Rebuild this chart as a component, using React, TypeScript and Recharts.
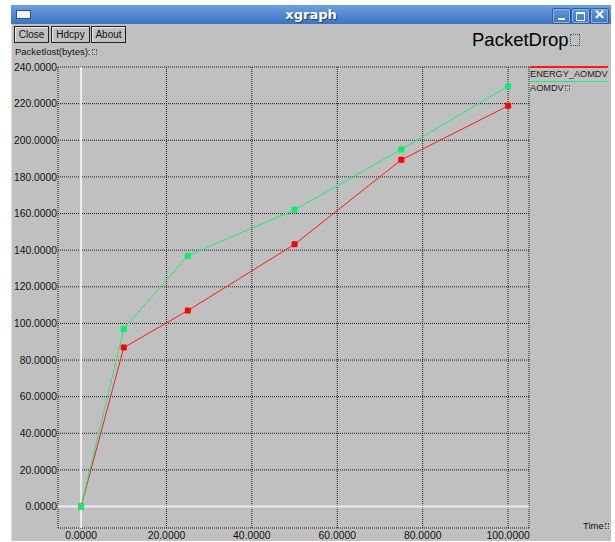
import React from 'react';
import { LineChart, Line, XAxis, YAxis, CartesianGrid, ReferenceLine } from 'recharts';

const times = [0, 10, 25, 50, 75, 100];
const energyAomdv = [0, 86.8, 107, 143.2, 189.3, 218.8];
const aomdv = [0, 97, 137, 162, 195, 229.5];

const xTicks = [0, 20, 40, 60, 80, 100];
const yTicks = [0, 20, 40, 60, 80, 100, 120, 140, 160, 180, 200, 220, 240];

const seriesNames = ['ENERGY_AOMDV', 'AOMDV'];
const seriesColors = ['#ff1a1a', '#1aee78'];
const markerColors = ['#ff0000', '#00f070'];

const FONT = '"Liberation Sans", Arial, Helvetica, sans-serif';

const data = times.map((t, i) => ({ t, energy: energyAomdv[i], aomdv: aomdv[i] }));

const SquareDot = (color: string) => (props: any) => {
  const { cx, cy, index } = props;
  if (cx == null || cy == null) return null;
  return <rect key={index} x={cx - 3} y={cy - 3} width={6} height={6} rx={1} fill={color} />;
};

const XButton: React.FC<{ left: number; width: number; label: string }> = ({ left, width, label }) => (
  <div
    style={{
      position: 'absolute',
      left,
      top: 26,
      width,
      height: 15,
      border: '1px solid #202020',
      boxShadow: 'inset 1px 1px 0 #e8e8e8',
      fontSize: 10,
      lineHeight: '15px',
      textAlign: 'center',
      color: '#111',
    }}
  >
    {label}
  </div>
);

const WinButton: React.FC<{ left: number; children?: React.ReactNode }> = ({ left, children }) => (
  <div
    style={{
      position: 'absolute',
      left,
      top: 8,
      width: 17,
      height: 14,
      borderRadius: 2,
      border: '1px solid #2c5d9e',
      background: 'linear-gradient(#5f95d8, #3f76c0)',
      boxShadow: 'inset 0 0 0 1px #8ab4e8',
    }}
  >
    {children}
  </div>
);

const MissingGlyph: React.FC<{ w: number; h: number }> = ({ w, h }) => (
  <span
    style={{
      display: 'inline-block',
      width: w,
      height: h,
      border: '1px dotted #555',
      marginLeft: 1,
      verticalAlign: 'baseline',
      boxSizing: 'border-box',
    }}
  />
);

export default function App() {
  return (
    <div
      style={{
        position: 'absolute',
        left: 0,
        top: 0,
        width: 615,
        height: 542,
        background: '#ffffff',
        fontFamily: FONT,
        overflow: 'hidden',
      }}
    >
      {/* title bar */}
      <div
        style={{
          position: 'absolute',
          left: 11,
          top: 5,
          width: 600,
          height: 19,
          background: 'linear-gradient(#6a9fe2, #3d73c2)',
        }}
      >
        <div
          style={{
            position: 'absolute',
            left: 5,
            top: 5,
            width: 13,
            height: 7,
            background: '#f4f4f4',
            border: '1px solid #2b4f80',
          }}
        />
        <div
          style={{
            position: 'absolute',
            left: 0,
            width: 600,
            top: 2,
            textAlign: 'center',
            color: '#fff',
            fontWeight: 'bold',
            fontSize: 13,
            textShadow: '1px 1px 1px #1f3f70',
            fontFamily: '"DejaVu Sans", sans-serif',
          }}
        >
          xgraph
        </div>
      </div>
      <WinButton left={552}>
        <div style={{ position: 'absolute', left: 5, top: 9, width: 7, height: 2, background: '#fff' }} />
      </WinButton>
      <WinButton left={571}>
        <div style={{ position: 'absolute', left: 4, top: 3, width: 7, height: 6, border: '1px solid #fff', borderTopWidth: 2 }} />
      </WinButton>
      <WinButton left={590}>
        <div style={{ position: 'absolute', left: 0, top: -2, width: 17, textAlign: 'center', color: '#fff', fontWeight: 'bold', fontSize: 13 }}>
          ✕
        </div>
      </WinButton>

      {/* client area */}
      <div
        style={{
          position: 'absolute',
          left: 11,
          top: 24,
          width: 600,
          height: 517,
          background: '#c0c0c0',
          borderLeft: '1px solid #e2ddd8',
          boxSizing: 'border-box',
          overflow: 'hidden',
        }}
      >
        <div style={{ position: 'absolute', left: -12, top: -24, width: 615, height: 542 }}>
          <XButton left={14} width={33} label="Close" />
          <XButton left={51} width={37} label="Hdcpy" />
          <XButton left={91} width={33} label="About" />

          <div style={{ position: 'absolute', left: 15, top: 46, fontSize: 9.5, color: '#111' }}>
            Packetlost(bytes):<MissingGlyph w={5} h={6} />
          </div>
          <div style={{ position: 'absolute', left: 472, top: 29, fontSize: 18.5, color: '#000' }}>
            PacketDrop<MissingGlyph w={10} h={12} />
          </div>
          <div style={{ position: 'absolute', left: 583, top: 520, fontSize: 9.5, color: '#111' }}>
            Time<MissingGlyph w={4} h={6} />
          </div>

          {/* legend */}
          {seriesNames.map((name, i) => (
            <div key={name} style={{ position: 'absolute', left: 530, top: 66 + i * 14.5, width: 80 }}>
              <div style={{ width: 78, height: 1.5, background: seriesColors[i] }} />
              <div style={{ fontSize: 9.2, color: '#222', marginTop: 1, whiteSpace: 'nowrap', lineHeight: '11px' }}>
                {name}
                {i === 1 ? <MissingGlyph w={5} h={6} /> : null}
              </div>
            </div>
          ))}

          <div style={{ position: 'absolute', left: 12, top: 23 }}>
            <LineChart
              width={598}
              height={518}
              data={data}
              margin={{ top: 44, right: 81, bottom: 0, left: 0 }}
            >
              <CartesianGrid stroke="#1a1a1a" strokeDasharray="1 1" />
              <XAxis
                dataKey="t"
                type="number"
                domain={[-5.4, 104.9]}
                allowDataOverflow
                ticks={xTicks}
                tickFormatter={(v: number) => v.toFixed(4)}
                axisLine={false}
                tickLine={false}
                tickSize={0}
                tickMargin={4}
                height={13}
                tick={{ fontSize: 10.4, fill: '#111', fontFamily: FONT }}
                interval={0}
              />
              <YAxis
                type="number"
                domain={[-11.7, 240]}
                allowDataOverflow
                ticks={yTicks}
                tickFormatter={(v: number) => v.toFixed(4)}
                axisLine={false}
                tickLine={false}
                tickSize={0}
                tickMargin={1}
                width={46}
                tick={{ fontSize: 10.3, fill: '#111', fontFamily: FONT }}
                interval={0}
              />
              <ReferenceLine x={0} stroke="#efefef" strokeWidth={2} />
              <ReferenceLine y={0} stroke="#efefef" strokeWidth={2} />
              <Line
                dataKey="energy"
                name={seriesNames[0]}
                stroke={seriesColors[0]}
                strokeWidth={1}
                dot={SquareDot(markerColors[0])}
                activeDot={false}
                isAnimationActive={false}
              />
              <Line
                dataKey="aomdv"
                name={seriesNames[1]}
                stroke={seriesColors[1]}
                strokeWidth={1}
                dot={SquareDot(markerColors[1])}
                activeDot={false}
                isAnimationActive={false}
              />
            </LineChart>
          </div>
        </div>
      </div>
    </div>
  );
}
